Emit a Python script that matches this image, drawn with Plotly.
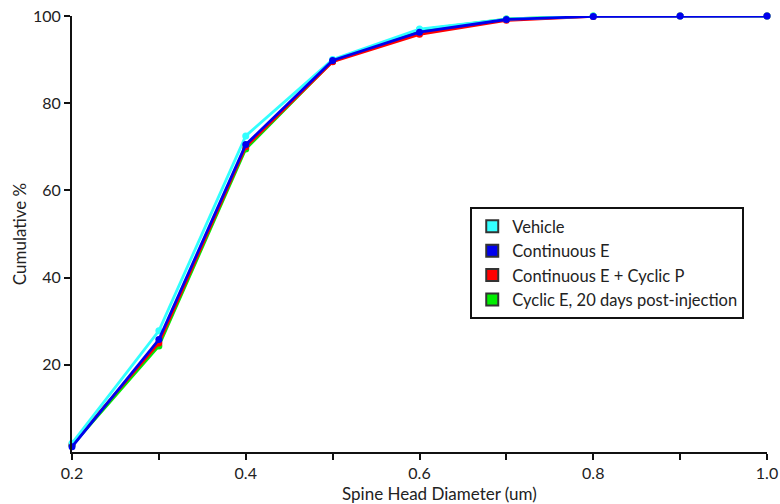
import plotly.graph_objects as go

diam = [0.2, 0.3, 0.4, 0.5, 0.6, 0.7, 0.8, 0.9, 1.0]
vehicle = [2.0, 27.8, 72.5, 90.0, 97.0, 99.3, 100.0, 100.0, 100.0]
cont_e = [1.2, 25.8, 70.5, 89.8, 96.3, 99.2, 99.9, 100.0, 100.0]
cont_e_cyc_p = [1.8, 25.0, 70.0, 89.5, 95.8, 99.0, 99.9, 100.0, 100.0]
cyclic_e = [1.5, 24.3, 69.5, 89.6, 96.8, 99.3, 100.0, 100.0, 100.0]

names = ["Vehicle", "Continuous E", "Continuous E + Cyclic P", "Cyclic E, 20 days post-injection"]
colors = ["#33FFFF", "#0000EE", "#FF0000", "#00EE00"]
series = [vehicle, cont_e, cont_e_cyc_p, cyclic_e]

fig = go.Figure()
draw_order = [3, 2, 0, 1]
for i in draw_order:
    fig.add_trace(go.Scatter(x=diam, y=series[i], mode="lines+markers",
                             line=dict(color=colors[i], width=2.8),
                             marker=dict(color=colors[i], size=7),
                             cliponaxis=False, showlegend=False))
for i in range(4):
    fig.add_trace(go.Scatter(x=[None], y=[None], mode="markers", name=names[i],
                             marker=dict(symbol="square", size=11, color=colors[i],
                                         line=dict(color="#333333", width=1))))

tickvals = [0.2, 0.3, 0.4, 0.5, 0.6, 0.7, 0.8, 0.9, 1.0]
ticktext = ["0.2", "", "0.4", "", "0.6", "", "0.8", "", "1.0"]

font = "Lato, Open Sans, sans-serif"
fig.update_layout(
    width=780, height=504,
    margin=dict(l=72, r=13, t=16, b=52, autoexpand=False),
    paper_bgcolor="white", plot_bgcolor="white",
    font=dict(family=font, size=14, color="#222222"),
    xaxis=dict(range=[0.2, 1.0], tickvals=tickvals, ticktext=ticktext, automargin=False,
               ticklabeloverflow="allow",
               showgrid=False, zeroline=False, showline=True, linecolor="#111111", linewidth=2,
               ticks="outside", ticklen=6, tickwidth=2, tickcolor="#111111",
               tickfont=dict(size=16)),
    yaxis=dict(range=[0, 100], tickvals=[20, 40, 60, 80, 100], automargin=False,
               ticklabeloverflow="allow",
               showgrid=False, zeroline=False, showline=True, linecolor="#111111", linewidth=2,
               ticks="outside", ticklen=6, tickwidth=2, tickcolor="#111111",
               tickfont=dict(size=16),
               title=dict(text="Cumulative %", font=dict(size=17), standoff=2)),
    legend=dict(x=0.573, y=0.562, xanchor="left", yanchor="top",
                bordercolor="#111111", borderwidth=2, bgcolor="white",
                font=dict(size=16.5), itemsizing="constant"),
    annotations=[dict(text="Spine Head Diameter (um)", xref="paper", yref="paper",
                      x=(439 - 72) / 695, y=0, yanchor="top", xanchor="center",
                      yshift=-29, showarrow=False, font=dict(size=17))],
)

# remove the page's default body margin so the 780x504 figure fills the window exactly
fig.write_html("out.html", config={"displayModeBar": False},
               post_script="document.body.style.margin='0';document.body.style.overflow='hidden';")
